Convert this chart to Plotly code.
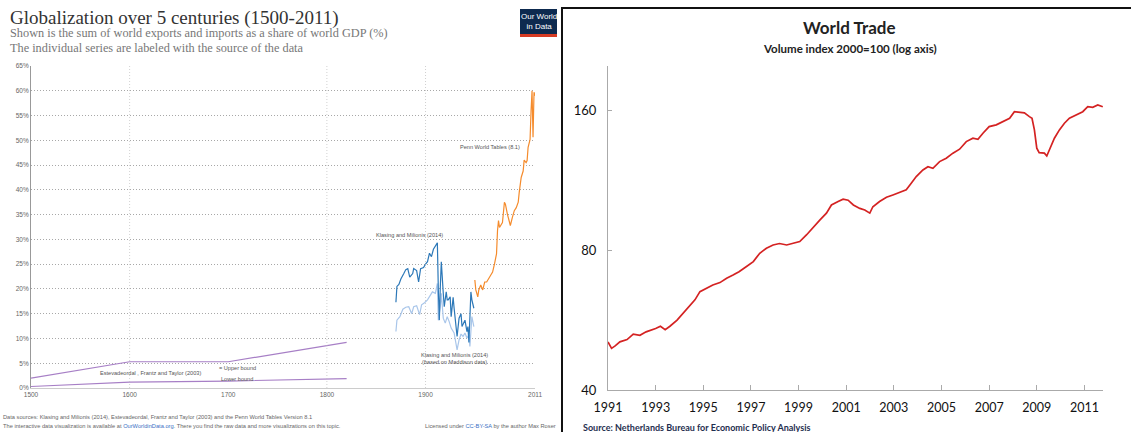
import plotly.graph_objects as go

W, H = 1131, 432
def px(x): return x / W
def py(y): return 1 - y / H

# ---------------- Left chart data (share of world GDP, %) ----------------
est_years = [1500, 1600, 1700, 1820]
est_upper = [2.0, 5.3, 5.3, 9.2]
est_lower = [0.3, 1.2, 1.4, 1.9]

km_years = [1870, 1871, 1873, 1875, 1878, 1880, 1882, 1884, 1887, 1888, 1891, 1893,
            1895, 1898, 1900, 1902, 1904, 1906, 1908, 1910, 1912, 1913, 1914, 1915,
            1916, 1918, 1919, 1921, 1922, 1923, 1925, 1926, 1928, 1929, 1931, 1932,
            1934, 1936, 1937, 1939, 1940, 1942, 1943, 1944, 1946, 1947, 1949]
km_values = [17.3, 20.5, 20.9, 22.0, 23.1, 23.9, 24.1, 22.4, 23.1, 24.1, 23.7, 21.4,
             24.1, 24.3, 25.0, 25.5, 27.2, 26.5, 28.0, 28.8, 29.3, 19.8, 13.7, 20.5,
             25.5, 19.1, 16.4, 19.4, 17.8, 17.8, 18.4, 14.4, 18.3, 16.1, 12.1, 10.4,
             14.1, 15.0, 12.4, 13.1, 13.7, 11.4, 12.4, 9.2, 19.4, 17.8, 16.1]

kmm_years = [1870, 1871, 1874, 1877, 1880, 1883, 1886, 1888, 1891, 1894, 1896, 1899,
             1902, 1904, 1907, 1910, 1912, 1913, 1915, 1916, 1918, 1920, 1922, 1924,
             1926, 1929, 1932, 1934, 1936, 1938, 1940, 1942, 1944, 1945, 1947, 1949]
kmm_values = [11.4, 13.7, 14.4, 15.9, 16.3, 16.4, 15.0, 16.4, 16.6, 14.8, 16.8, 17.2,
              17.8, 18.4, 19.4, 19.1, 21.1, 13.7, 16.4, 19.1, 14.1, 13.1, 14.4, 13.4,
              12.1, 11.1, 7.7, 9.7, 10.9, 10.4, 11.1, 10.1, 10.7, 8.4, 14.4, 12.4]

pwt_years = [1950, 1951, 1953, 1954, 1956, 1958, 1960, 1962, 1965, 1968, 1970, 1972,
             1973, 1974, 1975, 1977, 1978, 1980, 1981, 1983, 1984, 1986, 1988, 1990,
             1992, 1994, 1995, 1997, 1999, 2000, 2002, 2003, 2004, 2006, 2007, 2008,
             2009, 2010, 2011]
pwt_values = [21.8, 19.8, 18.4, 19.8, 20.8, 19.8, 21.4, 21.4, 22.4, 23.4, 25.1, 27.1,
              31.8, 33.8, 32.4, 33.1, 33.4, 37.5, 37.1, 35.1, 34.4, 32.8, 34.4, 35.8,
              36.4, 37.5, 39.5, 42.5, 43.8, 46.0, 45.5, 45.9, 48.6, 50.2, 55.9, 60.0,
              50.6, 59.7, 59.0]

left_xticks = [1500, 1600, 1700, 1800, 1900, 2011]
left_yticks = list(range(0, 66, 5))
left_yticktext = [f"{v}%" for v in left_yticks]

# ---------------- Right chart data (volume index 2000=100) ----------------
wt_time = [1991.00, 1991.15, 1991.30, 1991.50, 1991.80, 1992.06, 1992.34, 1992.60,
           1993.00, 1993.20, 1993.40, 1993.60, 1993.90, 1994.16, 1994.44, 1994.65,
           1994.86, 1995.14, 1995.40, 1995.70, 1995.98, 1996.25, 1996.50, 1996.80,
           1997.10, 1997.37, 1997.65, 1997.93, 1998.20, 1998.50, 1998.77, 1999.05,
           1999.33, 1999.60, 1999.90, 2000.17, 2000.38, 2000.66, 2000.87, 2001.08,
           2001.30, 2001.57, 2001.78, 2001.99, 2002.12, 2002.40, 2002.69, 2002.96,
           2003.24, 2003.52, 2003.73, 2003.94, 2004.22, 2004.43, 2004.64, 2004.92,
           2005.20, 2005.48, 2005.76, 2006.04, 2006.32, 2006.53, 2006.74, 2007.00,
           2007.30, 2007.57, 2007.86, 2008.06, 2008.27, 2008.48, 2008.69, 2008.80,
           2008.90, 2009.00, 2009.10, 2009.32, 2009.42, 2009.56, 2009.74, 2009.95,
           2010.16, 2010.37, 2010.65, 2010.93, 2011.14, 2011.35, 2011.56, 2011.77]
wt_index = [50.8, 49.2, 49.8, 50.8, 51.4, 52.8, 52.5, 53.4,
            54.3, 54.9, 54.0, 54.9, 56.6, 58.6, 60.7, 62.6,
            65.2, 66.3, 67.4, 68.2, 69.7, 70.8, 72.0, 73.8,
            75.7, 78.9, 80.9, 82.2, 82.8, 82.2, 82.9, 83.6,
            86.4, 89.3, 93.1, 96.3, 100.3, 102.0, 103.2, 102.7,
            100.3, 98.6, 97.8, 96.3, 99.4, 102.0, 104.2, 105.4,
            106.6, 108.1, 111.7, 115.5, 119.3, 121.3, 120.3, 124.4,
            126.5, 129.7, 132.3, 137.4, 139.7, 139.0, 143.2, 148.0,
            149.3, 151.7, 154.3, 159.4, 159.0, 158.4, 155.5, 154.3,
            145.6, 133.0, 130.0, 129.7, 127.9, 133.0, 139.7, 145.6,
            150.5, 154.3, 156.8, 159.4, 163.5, 162.9, 164.8, 163.3]
right_xticks = [1991, 1993, 1995, 1997, 1999, 2001, 2003, 2005, 2007, 2009, 2011]
right_yticks = [40, 80, 160]

# ---------------- Figure ----------------
fig = go.Figure()
lw = 1.2
fig.add_trace(go.Scatter(x=est_years, y=est_upper, mode="lines",
                         line=dict(color="#a77fc6", width=lw), xaxis="x", yaxis="y"))
fig.add_trace(go.Scatter(x=est_years, y=est_lower, mode="lines",
                         line=dict(color="#a77fc6", width=lw), xaxis="x", yaxis="y"))
fig.add_trace(go.Scatter(x=kmm_years, y=kmm_values, mode="lines",
                         line=dict(color="#a9c6ea", width=lw), xaxis="x", yaxis="y"))
fig.add_trace(go.Scatter(x=km_years, y=km_values, mode="lines",
                         line=dict(color="#2c78b8", width=lw), xaxis="x", yaxis="y"))
fig.add_trace(go.Scatter(x=pwt_years, y=pwt_values, mode="lines",
                         line=dict(color="#f58b2c", width=lw), xaxis="x", yaxis="y"))
fig.add_trace(go.Scatter(x=wt_time, y=wt_index, mode="lines",
                         line=dict(color="#d42222", width=1.7), xaxis="x2", yaxis="y2"))

small = dict(family="Liberation Sans", size=6.5, color="#666")
fig.update_layout(
    width=W, height=H, margin=dict(l=0, r=0, t=0, b=0, pad=0),
    paper_bgcolor="white", plot_bgcolor="white", showlegend=False,
    xaxis=dict(domain=[px(31), px(535)], range=[1500, 2011], tickvals=left_xticks,
               showgrid=False, zeroline=False, showline=True, linecolor="#ccc",
               linewidth=1, ticks="", tickfont=small, anchor="y", automargin=False),
    yaxis=dict(domain=[py(388), py(66)], range=[0, 65], tickvals=left_yticks,
               ticktext=left_yticktext, showgrid=True, gridcolor="#a8a8a8",
               griddash="1px,2px", gridwidth=0.7, zeroline=False, showline=True,
               linecolor="#999", linewidth=1, ticks="", tickfont=small, anchor="x",
               automargin=False),
    xaxis2=dict(domain=[px(608), px(1103)], range=[1991, 2011.78], tickvals=right_xticks,
                showgrid=False, zeroline=False, showline=True, linecolor="#aaa",
                linewidth=1, ticks="inside", ticklen=5, tickcolor="#aaa",
                tickfont=dict(family="Lato", size=12.5, color="#111"),
                ticklabelstandoff=6, anchor="y2", automargin=False),
    yaxis2=dict(domain=[py(390), py(66)], type="log", range=[1.60206, 2.30103],
                tickvals=right_yticks, ticktext=["40", "80", "160"],
                showgrid=False, zeroline=False, showline=True, linecolor="#aaa",
                linewidth=1, ticks="inside", ticklen=4, tickcolor="#aaa",
                tickfont=dict(family="Lato", size=13, color="#111"),
                ticklabelstandoff=8, anchor="x2", automargin=False),
)

shapes = []
for yr in [1600, 1800, 1900]:
    shapes.append(dict(type="line", xref="x", yref="y", x0=yr, x1=yr, y0=0, y1=65,
                       line=dict(color="#bdbdbd", width=0.7, dash="1px,2px")))
# OWID logo
shapes.append(dict(type="rect", xref="paper", yref="paper", x0=px(520), x1=px(557),
                   y0=py(36), y1=py(9), fillcolor="#0d2a4f", line=dict(width=0)))
shapes.append(dict(type="rect", xref="paper", yref="paper", x0=px(520), x1=px(557),
                   y0=py(37), y1=py(34), fillcolor="#d63b24", line=dict(width=0)))
# frame of the right picture
shapes.append(dict(type="rect", xref="paper", yref="paper", x0=px(562), x1=1.02,
                   y0=-0.05, y1=py(8), line=dict(color="#111", width=2)))
fig.update_layout(shapes=shapes)

ann = []
def A(text, x, y, xref="paper", yref="paper", xanchor="left", yanchor="middle",
      font=None, align="left"):
    ann.append(dict(text=text, x=x, y=y, xref=xref, yref=yref, xanchor=xanchor,
                    yanchor=yanchor, showarrow=False, font=font, align=align,
                    borderpad=0))

serif = "Liberation Serif"
A("Globalization over 5 centuries (1500-2011)", px(9), py(18),
  font=dict(family=serif, size=19, color="#333"))
A("Shown is the sum of world exports and imports as a share of world GDP (%)", px(9), py(33),
  font=dict(family=serif, size=12.3, color="#777"))
A("The individual series are labeled with the source of the data", px(9), py(48),
  font=dict(family=serif, size=12.3, color="#777"))
A("Our World<br>in Data", px(538.5), py(21), xanchor="center",
  font=dict(family="Liberation Sans Narrow, Liberation Sans", size=8, color="white"),
  align="center")

lab = dict(family="Liberation Sans", size=5.6, color="#555")
A("Penn World Tables (8.1)", 1997, 48.7, xref="x", yref="y", xanchor="right", font=lab)
A("Klasing and Milionis (2014)", 1884, 30.8, xref="x", yref="y", xanchor="center", font=lab)
A("Klasing and Milionis (2014)<br>(based on Maddison data)", 1929, 5.9, xref="x", yref="y",
  xanchor="center", font=lab, align="center")
A("Estevadeordal , Frantz and Taylor (2003)", 1621, 3.1, xref="x", yref="y",
  xanchor="center", font=lab)
A("= Upper bound", 1690, 4.1, xref="x", yref="y", font=lab)
A("Lower bound", 1692, 1.8, xref="x", yref="y", font=lab)

foot = dict(family="Liberation Sans", size=5.7, color="#666")
A("Data sources: Klasing and Milionis (2014), Estevadeordal, Frantz and Taylor (2003) and the Penn World Tables Version 8.1",
  px(2), py(417), font=foot)
A("The interactive data visualization is available at <span style='color:#3a6fc4'>OurWorldinData.org</span>. There you find the raw data and more visualizations on this topic.",
  px(2), py(426), font=foot)
A("Licensed under <span style='color:#3a6fc4'>CC-BY-SA</span> by the author Max Roser",
  px(557), py(426), xanchor="right", font=foot)

A("<b>World Trade</b>", px(850), py(27), xanchor="center",
  font=dict(family="Lato", size=17, color="#222"))
A("<b>Volume index 2000=100 (log axis)</b>", px(850), py(48), xanchor="center",
  font=dict(family="Lato", size=11.5, color="#222"))
A("<b>Source: Netherlands Bureau for Economic Policy Analysis</b>", px(582), py(427),
  font=dict(family="Lato", size=9, color="#1f2f4f"))

fig.update_layout(annotations=ann)
fig.write_html("out.html", config={"displayModeBar": False},
               post_script="document.body.style.margin='0';document.body.style.overflow='hidden';")
